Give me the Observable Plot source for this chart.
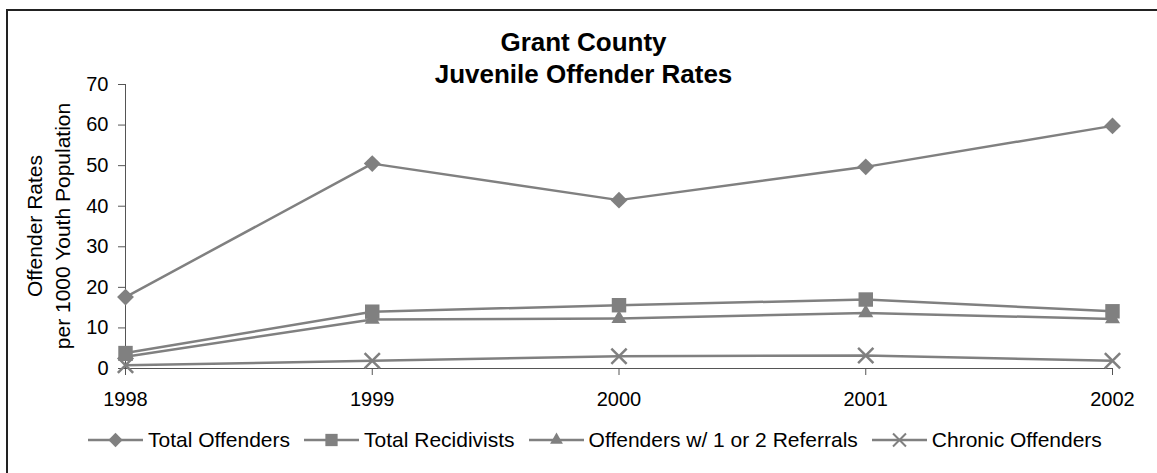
<!DOCTYPE html>
<html><head><meta charset="utf-8">
<script src="https://cdn.jsdelivr.net/npm/d3@7"></script>
<script src="https://cdn.jsdelivr.net/npm/@observablehq/plot@0.6"></script>
<style>
body{margin:0;background:#fff;overflow:hidden;font-family:"Liberation Sans",Arial,sans-serif;color:#000;}
#wrap{position:relative;width:1157px;height:473px;overflow:hidden;background:#fff;}
#frame{position:absolute;left:6px;top:9px;width:1300px;height:600px;border-top:2px solid #222;border-left:2px solid #222;}
#chart{position:absolute;left:0;top:0;}
#title{position:absolute;left:0;top:26px;width:1167px;text-align:center;font-weight:bold;font-size:26px;line-height:32px;}
#ylab{position:absolute;left:-101px;top:198px;width:300px;height:56px;text-align:center;font-size:21px;line-height:28px;transform:rotate(-90deg);transform-origin:50% 50%;}
#legend{position:absolute;left:88px;top:427px;height:26px;display:flex;align-items:center;font-size:21px;white-space:nowrap;}
.item{display:flex;align-items:center;margin-right:14px;}
.item svg{margin-right:5px;}
</style></head>
<body>
<div id="wrap">
  <div id="frame"></div>
  <div id="chart"></div>
  <div id="title">Grant County<br>Juvenile Offender Rates</div>
  <div id="ylab">Offender Rates<br>per 1000 Youth Population</div>
  <div id="legend"></div>
</div>
<script>
const years = [1998, 1999, 2000, 2001, 2002];
const seriesNames = ["Total Offenders", "Total Recidivists", "Offenders w/ 1 or 2 Referrals", "Chronic Offenders"];
const totalOffenders = [17.6, 50.5, 41.5, 49.7, 59.8];
const totalRecidivists = [3.8, 14.0, 15.6, 17.0, 14.1];
const referrals12 = [2.9, 12.1, 12.3, 13.7, 12.2];
const chronicOffenders = [0.8, 1.9, 3.0, 3.2, 1.9];
const yTicks = [0, 10, 20, 30, 40, 50, 60, 70];

const seriesValues = [totalOffenders, totalRecidivists, referrals12, chronicOffenders];
const symbols = ["diamond2", "square2", "triangle2", "times"];
const radii = [7.6, 9.2, 7.2, 7.0];
const gray = "#808080";

const rows = [];
seriesNames.forEach((name, s) => {
  years.forEach((yr, i) => rows.push({name, year: yr, value: seriesValues[s][i]}));
});

const marks = [
  Plot.ruleY([0], {stroke: "#555", strokeWidth: 1}),
  Plot.ruleX([1998], {stroke: "#555", strokeWidth: 1}),
  Plot.axisX({ticks: years, tickFormat: d => String(d), tickSize: 7, tickPadding: 16, stroke: "#555", fill: "#000", label: null}),
  Plot.axisY({ticks: yTicks, tickSize: 7, tickPadding: 10, stroke: "#555", fill: "#000", label: null})
];
seriesNames.forEach((name, s) => {
  const d = rows.filter(r => r.name === name);
  marks.push(Plot.line(d, {x: "year", y: "value", stroke: gray, strokeWidth: 2.5}));
});
seriesNames.forEach((name, s) => {
  const d = rows.filter(r => r.name === name);
  if (symbols[s] === "times") {
    marks.push(Plot.dot(d, {x: "year", y: "value", symbol: symbols[s], r: radii[s], stroke: gray, strokeWidth: 2.5, fill: "none"}));
  } else {
    marks.push(Plot.dot(d, {x: "year", y: "value", symbol: symbols[s], r: radii[s], fill: gray, stroke: "none"}));
  }
});

const chart = Plot.plot({
  width: 1157,
  height: 473,
  marginLeft: 125,
  marginRight: 45,
  marginTop: 84,
  marginBottom: 105,
  style: {fontSize: "20px", fontFamily: "'Liberation Sans', Arial, sans-serif", background: "transparent", color: "#000", overflow: "visible"},
  x: {type: "linear", domain: [1998, 2002]},
  y: {domain: [0, 70]},
  marks
});
document.getElementById("chart").appendChild(chart);

// legend
const legend = d3.select("#legend");
const d3sym = {diamond2: d3.symbolDiamond2, square2: d3.symbolSquare2, triangle2: d3.symbolTriangle2, times: d3.symbolTimes};
seriesNames.forEach((name, s) => {
  const item = legend.append("div").attr("class", "item");
  const svg = item.append("svg").attr("width", 55).attr("height", 26);
  svg.append("line").attr("x1", 0).attr("x2", 55).attr("y1", 13).attr("y2", 13).attr("stroke", gray).attr("stroke-width", 2.5);
  const r = radii[s] * 0.85;
  const p = svg.append("path").attr("transform", "translate(27.5,13)")
    .attr("d", d3.symbol(d3sym[symbols[s]], Math.PI * r * r)());
  if (symbols[s] === "times") p.attr("fill", "none").attr("stroke", gray).attr("stroke-width", 2);
  else p.attr("fill", gray);
  item.append("span").text(name);
});
</script>
</body></html>
